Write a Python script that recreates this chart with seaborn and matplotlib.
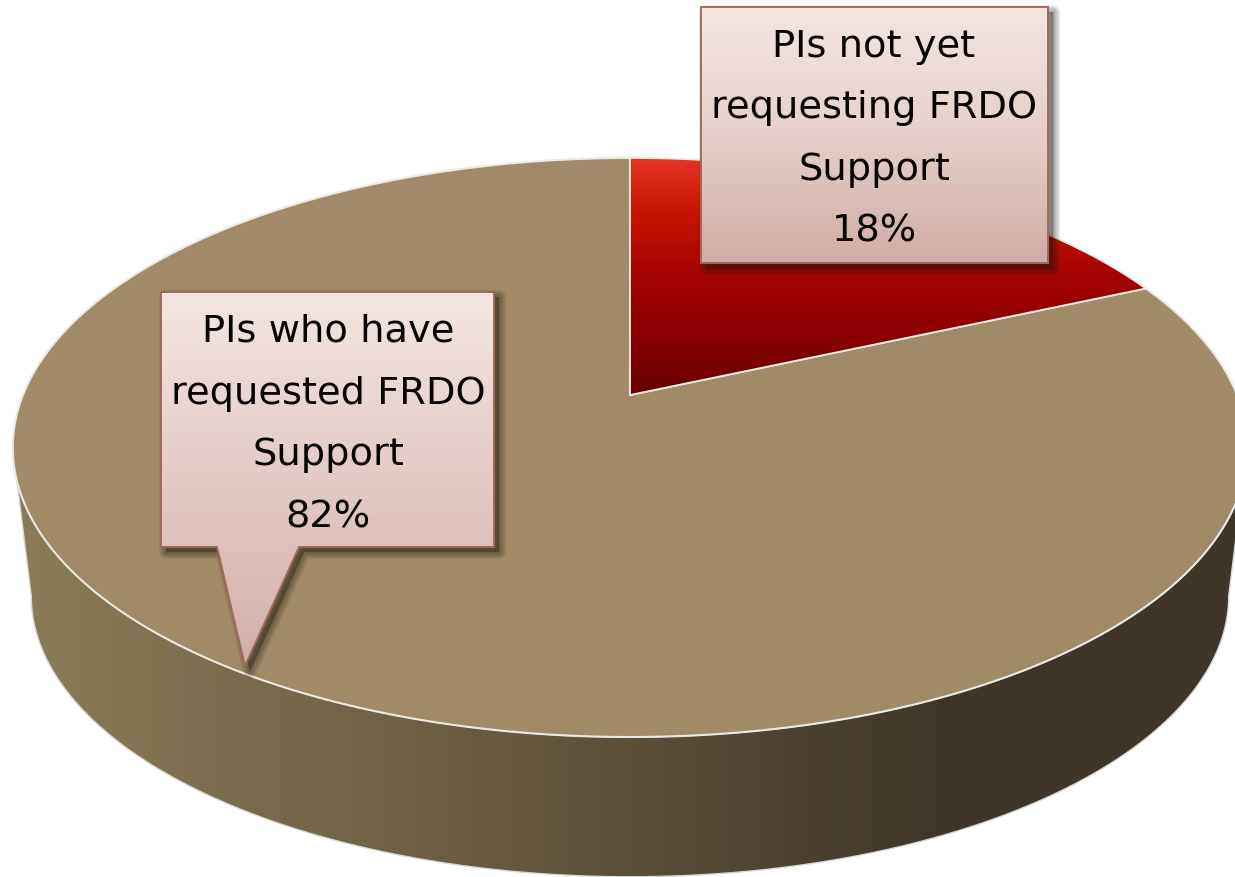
import numpy as np
import matplotlib
matplotlib.use("Agg")
import matplotlib.pyplot as plt
import seaborn as sns
from matplotlib.colors import LinearSegmentedColormap
from matplotlib.patches import Polygon

# data, shares (labels round them)
categories = ["PIs not yet\nrequesting FRDO\nSupport", "PIs who have\nrequested FRDO\nSupport"]
shares = [18.3, 81.7]
percent_labels = ["18%", "82%"]

# colours
TOP_COLOR = "#a08a67"
EDGE_COLOR = "#e9e9e6"
RED_STOPS = ["#e63424", "#c51300", "#a30300", "#8a0000", "#660000"]
WALL_STOPS = ["#8b7c59", "#75664a", "#5c4f3a", "#40372a", "#3f3629"]
BOX_STOPS = ["#f4e6e2", "#e6d0cb", "#cfada5"]
TAIL_STOPS = ["#f4e6e2", "#e8d3cf", "#dec2bd", "#d0aea8"]
BOX_EDGE = "#a0695b"

# pie geometry, picture pixels
TIP_X, TIP_Y = 630, 395
PIE_A, PIE_B, PIE_K = 607, 280, 0.1813
WALL_SCALE, WALL_DROP = 0.97, 150

sns.set_theme(style="white")
plt.rcParams["font.family"] = ["DejaVu Sans"]

fig = plt.figure(figsize=(12.35, 8.77), dpi=100)
ax = fig.add_axes([0, 0, 1, 1])


def project(theta_deg, radius=1.0, scale=1.0, drop=0):
    # tilted disc: a circle seen in perspective, so the centre sits above the ellipse centre
    t = np.radians(theta_deg)
    x = radius * np.cos(t)
    y = radius * np.sin(t)
    w = 1 + PIE_K * y
    return np.column_stack([TIP_X + scale * PIE_A * x / w, TIP_Y + drop - scale * PIE_B * y / w])


def gradient_fill(points, stops, horizontal=False, zorder=1):
    cmap = LinearSegmentedColormap.from_list("g", stops)
    xs, ys = points[:, 0], points[:, 1]
    ramp = np.linspace(0, 1, 256)
    ramp = ramp.reshape(1, -1) if horizontal else ramp.reshape(-1, 1)
    img = ax.imshow(ramp, cmap=cmap, aspect="auto", zorder=zorder,
                    extent=[xs.min(), xs.max(), ys.max(), ys.min()])
    clip = Polygon(points, closed=True, transform=ax.transData, facecolor="none", edgecolor="none")
    ax.add_patch(clip)
    img.set_clip_path(clip)


def callout(points, stops, x_mid, baselines, lines):
    # soft shadow: widening strokes of low alpha, shifted down right
    shadow = points + np.array([5, 5])
    for lw in [10, 8, 6, 4, 2]:
        ax.add_patch(Polygon(shadow, closed=True, facecolor="#201a10", edgecolor="#201a10",
                             linewidth=lw, alpha=0.085, joinstyle="round", zorder=5))
    gradient_fill(points, stops, zorder=6)
    ax.add_patch(Polygon(points, closed=True, facecolor="none", edgecolor=BOX_EDGE,
                         linewidth=1.4, joinstyle="miter", zorder=7))
    for base, line in zip(baselines, lines):
        ax.text(x_mid, base, line, ha="center", va="baseline", fontsize=27.6, color="#050505", zorder=8)


# the pie call gives the wedge angles from the shares
wedges, _ = ax.pie(shares, startangle=90, counterclock=False, radius=1)
spans = [(w.theta1, w.theta2) for w in wedges]
for w in wedges:
    w.remove()

# side wall
front = np.linspace(180 + np.degrees(np.arcsin(PIE_K)), 360 - np.degrees(np.arcsin(PIE_K)), 300)
wall = np.vstack([project(front), project(front[::-1], scale=WALL_SCALE, drop=WALL_DROP)])
gradient_fill(wall, WALL_STOPS, horizontal=True, zorder=1)
ax.add_patch(Polygon(wall, closed=True, facecolor="none", edgecolor="#d8d8d6", linewidth=1.0, zorder=2))

# top face, one polygon per share
red_t1, red_t2 = spans[0]
tan_t1, tan_t2 = spans[1]
red = np.vstack([[TIP_X, TIP_Y], project(np.linspace(red_t1, red_t2, 200))])
tan = np.vstack([[TIP_X, TIP_Y], project(np.linspace(tan_t1, tan_t2, 600))])
ax.add_patch(Polygon(tan, closed=True, facecolor=TOP_COLOR, edgecolor=EDGE_COLOR, linewidth=1.5, zorder=3))
gradient_fill(red, RED_STOPS, zorder=3)
ax.add_patch(Polygon(red, closed=True, facecolor="none", edgecolor=EDGE_COLOR, linewidth=1.3, zorder=4))

# callouts
box_right = np.array([[701, 7], [1048, 7], [1048, 263], [701, 263]], dtype=float)
box_left = np.array([[161, 292], [494, 292], [494, 547], [299, 547],
                     [245, 666], [217, 547], [161, 547]], dtype=float)
callout(box_right, BOX_STOPS, 874, [57, 118, 180, 241], categories[0].split("\n") + [percent_labels[0]])
callout(box_left, TAIL_STOPS, 328, [342, 404, 465, 527], categories[1].split("\n") + [percent_labels[1]])

ax.set_aspect("auto")
ax.set_xlim(0, 1235)
ax.set_ylim(877, 0)
ax.axis("off")

fig.savefig("out.png", dpi=100, facecolor="white")
